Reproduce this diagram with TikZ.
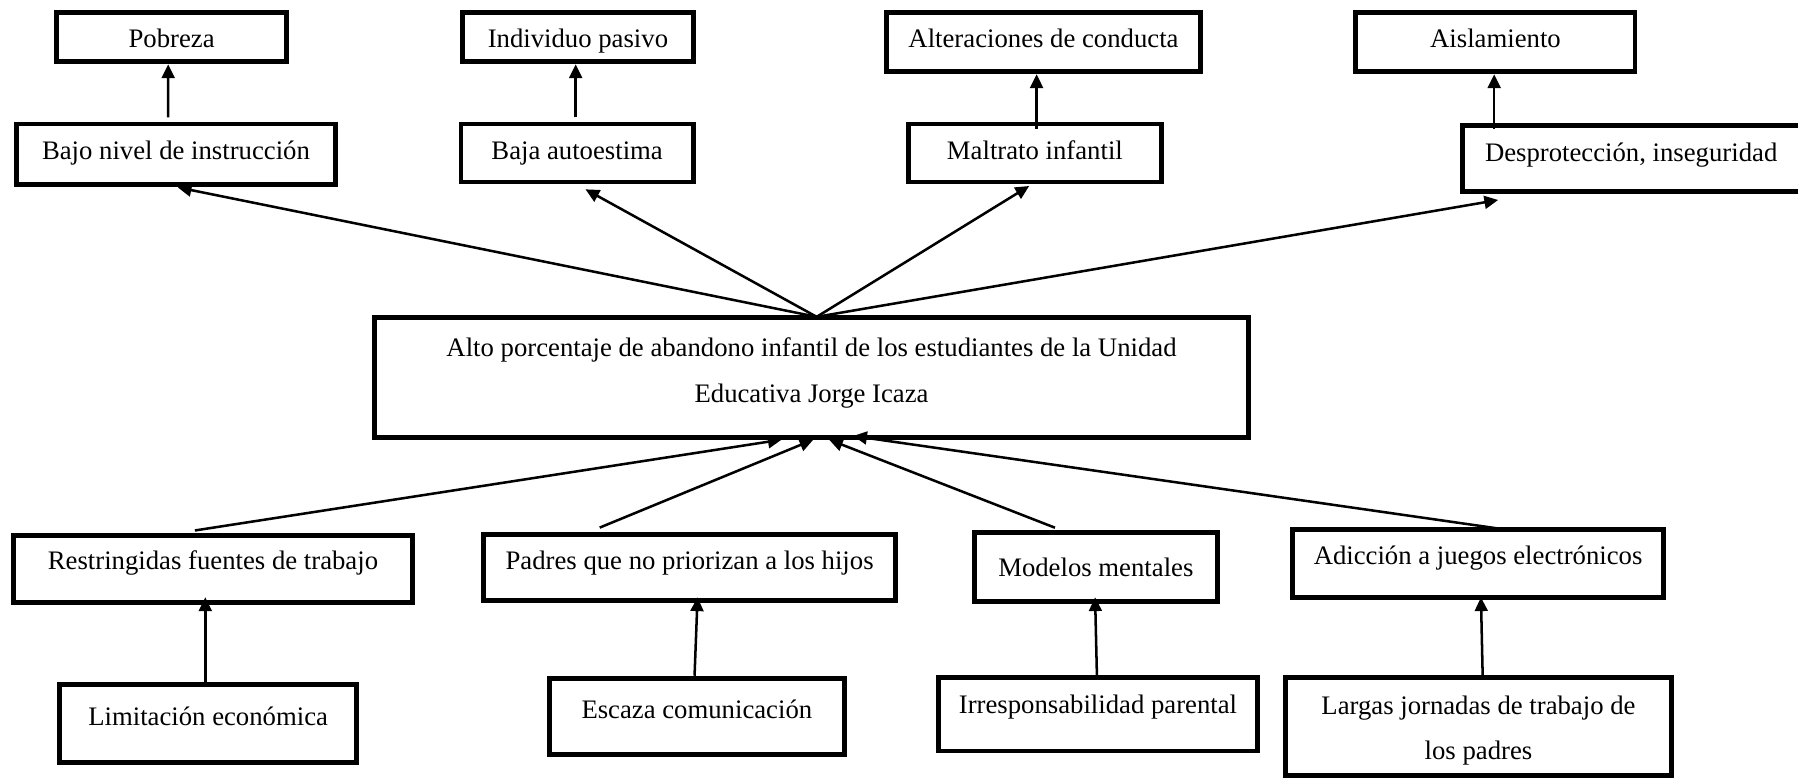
\documentclass[tikz,border=0pt]{standalone}
\usepackage{fontspec}
\setmainfont{Liberation Serif}
\usetikzlibrary{arrows.meta,calc}
\begin{document}
\begin{tikzpicture}[x=0.5pt,y=-0.5pt,
  box/.style={draw,line width=2.1pt,rectangle,inner sep=0pt,outer sep=0pt},
  txt/.style={font=\fontsize{11.65}{19.7}\selectfont,inner sep=0pt},
  one/.style={txt,text height=#1,text depth={12pt-#1}},
  one/.default=9pt,
  arr/.style={line width=1.1pt,-{Triangle[length=6pt,width=5.6pt]}},
]
\clip (0,0) rectangle (1568,681);
\fill[white] (0,0) rectangle (1568,681);

% top row
\node[box,one=10.5pt,minimum width=100.05pt,minimum height=21.45pt] (pob) at (149.65,32.25) {Pobreza};
\node[box,one=10.5pt,minimum width=100.9pt,minimum height=21.45pt] (ind) at (504,32.25) {Individuo pasivo};
\node[box,one=8.35pt,minimum width=136.9pt,minimum height=25.8pt] (alt) at (910,36.6) {Alteraciones de conducta};
\node[box,one=8.35pt,minimum width=121.75pt,minimum height=25.8pt] (ais) at (1304.15,36.6) {Aislamiento};

% second row
\node[box,one=8.3pt,minimum width=138.85pt,minimum height=26.3pt] (bajo) at (153.45,134.4) {Bajo nivel de instrucción};
\node[box,one=8.8pt,minimum width=101.2pt,minimum height=25.3pt] (baja) at (503.3,133.4) {Baja autoestima};
\node[box,one=9pt,minimum width=110.4pt,minimum height=25.3pt] (mal) at (902.5,133.4) {Maltrato infantil};
\node[box,one=7.4pt,minimum width=147.4pt,minimum height=28.65pt] (desp) at (1422.5,138.25) {Desprotección, inseguridad};

% centre
\node[box,minimum width=381.2pt,minimum height=52.4pt] (ctr) at (707.7,329.2) {};
\node[txt,align=center] (ctrtext) at (707.7,325.3) {Alto porcentaje de abandono infantil de los estudiantes de la Unidad\\Educativa Jorge Icaza};

% third row
\node[box,one=6.35pt,minimum width=173.65pt,minimum height=29.2pt] (restr) at (185.75,496.3) {Restringidas fuentes de trabajo};
\node[box,one=7.05pt,minimum width=179.8pt,minimum height=29.1pt] (padres) at (601.4,494.9) {Padres que no priorizan a los hijos};
\node[box,one=10.3pt,minimum width=106.05pt,minimum height=30.15pt] (mod) at (955.65,494.45) {Modelos mentales};
\node[box,one=6.45pt,minimum width=161.9pt,minimum height=29.85pt] (adic) at (1289,491.25) {Adicción a juegos electrónicos};

% bottom row
\node[box,one=6.65pt,minimum width=129.4pt,minimum height=33.9pt] (lim) at (181.5,631) {Limitación económica};
\node[box,one=6.85pt,minimum width=128.6pt,minimum height=33.1pt] (esc) at (607.7,624.7) {Escaza comunicación};
\node[box,one=5.65pt,minimum width=139.4pt,minimum height=32.05pt] (irr) at (957.5,622.85) {Irresponsabilidad parental};
\node[box,minimum width=168.25pt,minimum height=42.9pt] (larg) at (1289.35,633.7) {};
\node[txt,align=center] (largtext) at (1289.35,637) {Largas jornadas de trabajo de\\los padres};

% vertical arrows, top
\draw[arr] ($(bajo.north)+(-6.75,-5.8)$) -- ($(pob.south)+(-2.95,2.4)$);
\draw[arr] ($(baja.north)+(-1.3,-5.8)$) -- ($(ind.south)+(-2,2.4)$);
\draw[arr] ($(mal.north)+(1.5,4.3)$) -- ($(alt.south)+(-6,2.4)$);
\draw[arr] ($(desp.north)+(-119.5,3)$) -- ($(ais.south)+(-1.15,2.4)$);

% centre to effects
\coordinate (ctop) at ($(ctr.north)+(4.5,-0.5)$);
\draw[arr] (ctop) -- ($(bajo.south)+(1.55,2.7)$);
\draw[arr] (ctop) -- ($(baja.south)+(7.3,6.4)$);
\draw[arr] (ctop) -- ($(mal.south)+(-5,3.5)$);
\draw[arr] (ctop) -- ($(desp.south)+(-116,7.5)$);

% causes to centre
\draw[arr] ($(restr.north)+(-15.75,-4.5)$) -- ($(ctr.south)+(-26,1.8)$);
\draw[arr] ($(padres.north)+(-78.4,-5.7)$) -- ($(ctr.south)+(1.6,1.8)$);
\draw[arr] ($(mod.north)+(-35.65,-4.1)$) -- ($(ctr.south)+(15.3,1.8)$);
\draw[arr] ($(adic.north)+(19,-0.3)$) -- ($(ctr.south)+(36.3,-1.4)$);

% vertical arrows, bottom
\draw[arr] ($(lim.north)+(-2.5,2.3)$) -- ($(restr.south)+(-6.75,-4.6)$);
\draw[arr] ($(esc.north)+(-2,-2.3)$) -- ($(padres.south)+(6.9,-3.1)$);
\draw[arr] ($(irr.north)+(-0.9,-1.5)$) -- ($(mod.south)+(-0.65,-3.7)$);
\draw[arr] ($(larg.north)+(3.65,-1.5)$) -- ($(adic.south)+(2.5,-0.2)$);
\end{tikzpicture}
\end{document}
